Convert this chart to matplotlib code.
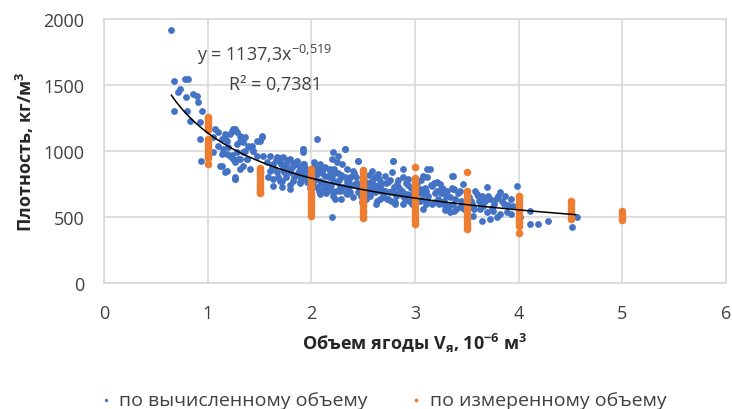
import matplotlib
matplotlib.use("Agg")
import matplotlib.pyplot as plt
import numpy as np

plt.rcParams["font.family"] = ["Open Sans", "DejaVu Sans"]

# blue series: density from calculated volume (x = volume, 10^-6 m3; y = kg/m3)
calc_x = [
    0.65, 0.68, 0.78, 0.81, 0.73, 0.71, 0.86, 0.90, 0.79, 0.91, 0.68, 0.80, 0.95, 0.83, 0.93,
    1.07, 1.10, 1.17, 1.23, 0.93, 1.05, 1.14, 1.19, 1.10, 1.15, 1.20, 1.28, 1.05, 1.14, 1.19,
    1.23, 0.94, 1.12, 1.17, 1.26, 1.31, 1.26, 1.22, 1.17, 1.31, 1.36, 1.48, 1.52, 1.41, 1.44,
    1.34, 1.22, 1.24, 1.29, 1.38, 1.19, 1.26, 1.14, 1.24, 1.28, 1.31, 1.43, 1.52, 1.50, 1.34,
    1.39, 1.36, 1.44, 1.48, 1.28, 1.31, 1.26, 1.38, 1.34, 1.26, 1.41,
    1.53, 1.60, 1.67, 1.73, 1.79, 1.86, 1.57, 1.63, 1.70, 1.76, 1.82, 1.89,
    1.60, 1.67, 1.73, 1.79, 1.86, 1.92, 1.63, 1.70, 1.76, 1.82, 1.89, 1.63, 1.72, 1.79, 1.92, 1.58,
    2.05, 1.92, 1.92, 2.21, 2.26, 2.32, 2.45, 2.20, 2.25, 2.30, 1.92, 2.03, 2.08,
    2.11, 2.18, 2.34, 2.40, 2.05, 2.13, 2.21, 2.30, 2.37,
    1.92, 1.96, 2.02, 2.08, 2.15, 2.25, 2.34, 2.42, 2.05, 2.11, 2.20, 2.28, 2.35, 2.54,
    2.08, 2.21, 2.34, 2.54, 2.20, 2.45, 2.58, 2.63, 2.29,
    2.79, 2.88, 2.78, 3.14, 2.59, 2.64, 2.71, 2.88, 2.93, 3.08, 3.12, 2.59, 2.66, 2.74, 2.83,
    3.21, 3.16, 2.61, 2.69, 2.78, 2.85, 2.92, 3.05, 3.11, 3.24, 2.63, 2.73, 2.81, 2.88,
    3.05, 3.11, 3.19, 3.29, 3.00, 3.08, 3.29,
    2.32, 2.45, 2.79, 3.12, 3.36, 3.24, 3.21, 3.27, 3.38, 3.31, 3.34, 3.40,
    3.37, 3.46, 3.27, 3.37, 3.69, 3.70, 3.60, 3.65, 3.82, 3.87, 3.93, 3.98, 3.31, 3.38, 3.43,
    3.56, 3.63, 3.69, 3.75, 3.82, 3.89, 3.56, 3.65, 3.72, 3.79, 3.93, 4.01, 4.11, 4.19, 4.28,
    4.11, 4.56, 4.51, 3.80,
    1.62, 1.66, 1.68, 1.71, 1.74, 1.77, 1.80, 1.83, 1.85, 1.88, 1.90, 1.94, 1.97, 1.99, 2.02,
    2.04, 2.07, 2.10, 2.12, 2.14, 2.17, 2.19, 2.22, 2.24, 2.27, 2.29, 2.31, 2.33, 2.36, 2.38,
    2.40, 2.43, 2.46, 2.48, 2.51, 2.53, 2.56, 2.58, 2.60, 2.62, 2.65, 2.67, 2.69, 2.72, 2.75,
    2.77, 2.80, 2.82, 2.84, 2.87, 2.90, 2.93, 2.95, 2.97, 3.02, 3.04, 3.07, 3.10, 3.13, 3.16,
    3.18, 3.22, 3.25, 3.28, 3.31, 3.34, 3.37, 3.41, 3.44, 3.47, 3.52, 3.55, 3.58, 3.62, 3.66,
    3.72, 3.76, 3.84, 3.90,
    1.64, 1.69, 1.72, 1.76, 1.79, 1.82, 1.86, 1.89, 1.93, 1.96, 2.01, 2.03, 2.06, 2.09, 2.13,
    2.16, 2.18, 2.21, 2.23, 2.26, 2.28, 2.32, 2.35, 2.37, 2.41, 2.44, 2.47, 2.49, 2.52, 2.55,
    2.57, 2.61, 2.63, 2.66, 2.68, 2.71, 2.74, 2.76, 2.79, 2.81, 2.85, 2.88, 2.91, 2.94, 2.96,
    3.01, 3.03, 3.06, 3.09, 3.12, 3.15, 3.19, 3.23, 3.26, 3.30, 3.33, 3.36, 3.39, 3.43, 3.46,
    3.50, 3.54, 3.57, 3.61, 3.64, 3.68, 3.74, 3.78, 3.86, 3.95,
]
calc_y = [
    1920, 1530, 1545, 1545, 1470, 1447, 1432, 1417, 1409, 1371, 1303, 1303, 1303, 1227, 1220,
    1167, 1144, 1129, 1152, 1091, 1106, 1091, 1076, 1038, 1015, 1030, 1053, 992, 977, 977,
    970, 924, 886, 841, 803, 864, 1167, 1129, 1106, 1076, 1106, 1076, 1106, 1030, 1000,
    992, 962, 940, 940, 940, 848, 788, 886, 1167, 1144, 1114, 1038, 1114, 1076, 1068,
    1038, 1000, 1000, 962, 992, 940, 917, 940, 886, 788, 864,
    962, 962, 955, 955, 940, 924, 917, 902, 917, 902, 886, 879,
    848, 841, 864, 841, 826, 841, 788, 773, 803, 773, 765, 735, 727, 712, 1015, 803,
    1091, 1015, 992, 992, 962, 1015, 924, 940, 917, 902, 902, 879, 902,
    864, 864, 864, 848, 826, 811, 826, 811, 803,
    803, 765, 765, 773, 750, 765, 765, 750, 727, 712, 697, 727, 712, 735,
    674, 659, 674, 689, 500, 689, 712, 735, 636,
    924, 864, 841, 864, 848, 826, 811, 803, 788, 811, 803, 773, 750, 765, 750,
    765, 735, 689, 674, 697, 689, 674, 712, 697, 697, 621, 636, 614, 598,
    621, 598, 614, 583, 576, 561, 553,
    1015, 924, 924, 864, 811, 750, 697, 689, 712, 583, 538, 561,
    811, 750, 712, 712, 727, 659, 674, 659, 689, 659, 636, 735, 576, 545, 576,
    576, 561, 538, 545, 523, 538, 508, 470, 485, 500, 523, 500, 447, 447, 470,
    545, 500, 424, 659,
    880, 930, 800, 900, 840, 930, 860, 800, 900, 850, 780, 870, 830, 720, 850,
    790, 700, 830, 760, 680, 800, 740, 860, 700, 780, 820, 730, 680, 790, 740,
    650, 800, 720, 660, 780, 640, 820, 690, 740, 600, 790, 710, 650, 760, 690,
    620, 730, 660, 780, 700, 640, 740, 670, 600, 760, 680, 640, 720, 660, 600,
    760, 640, 680, 620, 700, 650, 600, 680, 620, 560, 650, 600, 700, 620, 580,
    640, 600, 620, 590,
    860, 950, 770, 880, 740, 910, 820, 760, 900, 800, 750, 920, 860, 760, 880,
    720, 850, 780, 640, 830, 700, 800, 760, 690, 830, 760, 700, 610, 730, 760,
    660, 800, 700, 640, 760, 700, 640, 780, 690, 600, 720, 660, 760, 620, 720,
    700, 620, 780, 680, 620, 740, 680, 600, 720, 660, 580, 720, 640, 700, 600,
    680, 620, 560, 660, 600, 620, 570, 640, 600, 580,
]

# orange series: density from measured volume, one column per volume step
meas_cols = [1.0, 1.5, 2.0, 2.5, 3.0, 3.5, 4.0, 4.5, 5.0]
meas_vals = [
    [1260, 1240, 1220, 1200, 1180, 1160, 1090, 1070, 1050, 1030, 1010, 990, 970, 950, 900],
    [870, 850, 830, 810, 790, 770, 750, 730, 710, 690, 680],
    [860, 835, 810, 785, 760, 735, 710, 685, 660, 635, 610, 585, 560, 535, 510],
    [855, 830, 805, 780, 755, 730, 705, 680, 655, 630, 605, 580, 555, 530, 505, 490],
    [880, 795, 770, 745, 720, 695, 670, 645, 620, 595, 570, 545, 520, 495, 470, 445],
    [840, 700, 675, 650, 625, 600, 575, 550, 525, 500, 475, 450, 425, 410],
    [660, 635, 610, 585, 560, 535, 510, 485, 460, 435, 380],
    [620, 595, 570, 545, 520, 495, 485],
    [545, 520, 495, 475],
]

# power trend line as printed on the chart
trend_a = 1137.3
trend_b = -0.519
trend_range = (0.65, 4.55)

x_ticks = [0, 1, 2, 3, 4, 5, 6]
y_ticks = [0, 500, 1000, 1500, 2000]

BLUE = "#4472C4"
ORANGE = "#ED7D31"
GRID = "#D9D9D9"
TEXT = "#404040"
FS = 13

fig = plt.figure(figsize=(7.32, 4.10), dpi=100)
ax = fig.add_axes([104 / 732, 1 - 284 / 410, 622 / 732, 264 / 410])

ax.scatter(calc_x, calc_y, s=24, color=BLUE, linewidths=0, zorder=3,
           label="по вычисленному объему")
meas_x = [c for c, vals in zip(meas_cols, meas_vals) for _ in vals]
meas_y = [v for vals in meas_vals for v in vals]
ax.scatter(meas_x, meas_y, s=30, color=ORANGE, linewidths=0, zorder=4,
           label="по измеренному объему")

tx = np.linspace(trend_range[0], trend_range[1], 200)
ax.plot(tx, trend_a * tx ** trend_b, color="black", linewidth=1.1, zorder=5)

ax.text(1.55, 1735, "y = 1137,3x$^{\\mathregular{-0{,}519}}$", ha="center", va="center",
        fontsize=FS, color=TEXT, zorder=6)
ax.text(1.65, 1505, "R² = 0,7381", ha="center", va="center",
        fontsize=FS, color=TEXT, zorder=6)

ax.set_xlim(0, 6)
ax.set_ylim(0, 2000)
ax.set_xticks(x_ticks)
ax.set_yticks(y_ticks)
ax.tick_params(length=0, labelsize=FS, labelcolor=TEXT)
ax.tick_params(axis="x", pad=15)
ax.tick_params(axis="y", pad=14)
ax.grid(True, color=GRID, linewidth=1.2, zorder=0)
ax.set_axisbelow(True)
for spine in ax.spines.values():
    spine.set_color(GRID)
    spine.set_linewidth(1.2)

ax.set_xlabel("Объем ягоды V$_\\mathregular{я}$, 10$^\\mathregular{-6}$ м$^\\mathregular{3}$",
              fontsize=FS, fontweight="bold", color="#262626")
ax.xaxis.set_label_coords(0.5, -0.18)
ax.set_ylabel("Плотность, кг/м$^\\mathregular{3}$", fontsize=FS, fontweight="bold", color="#262626")
ax.yaxis.set_label_coords(-0.11, 0.5)

fig.legend(loc="center", bbox_to_anchor=(0.521, 0.022), ncol=2, frameon=False,
           fontsize=14, markerscale=0.5, handletextpad=0.2, handlelength=1.0,
           columnspacing=2.0, labelcolor=TEXT)

fig.savefig("out.png", dpi=100)
